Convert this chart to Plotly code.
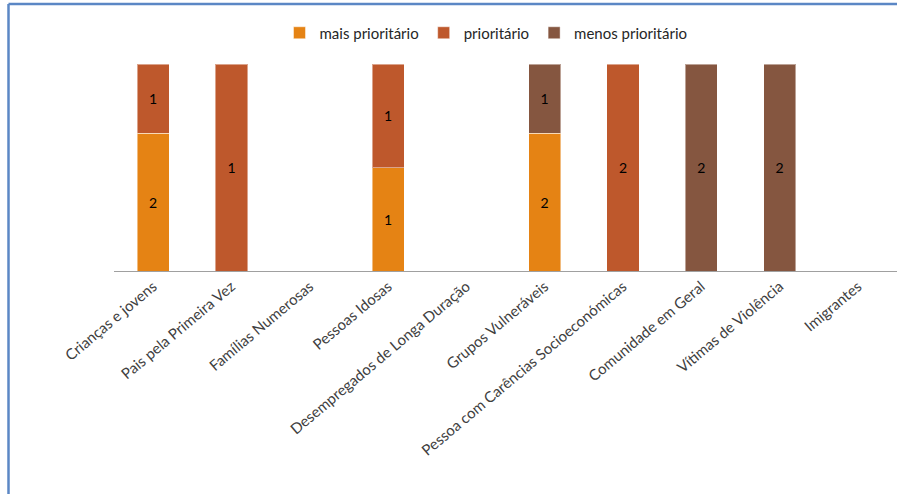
import plotly.graph_objects as go

categorias = [
    "Crianças e jovens", "Pais pela Primeira Vez", "Famílias Numerosas",
    "Pessoas Idosas", "Desempregados de Longa Duração", "Grupos Vulneráveis",
    "Pessoa com Carências Socioeconómicas", "Comunidade em Geral",
    "Vítimas de Violência", "Imigrantes",
]
mais_prioritario = [2, None, None, 1, None, 2, None, None, None, None]
prioritario = [1, 1, None, 1, None, None, 2, None, None, None]
menos_prioritario = [None, None, None, None, None, 1, None, 2, 2, None]

series = [
    ("mais prioritário", mais_prioritario, "#E58314"),
    ("prioritário", prioritario, "#BE582C"),
    ("menos prioritário", menos_prioritario, "#855640"),
]

W, H = 897, 494
ML, MR, MT, MB = 114, 0, 64, 223
pw, ph = W - ML - MR, H - MT - MB

fig = go.Figure()
for nome, vals, cor in series:
    fig.add_trace(go.Bar(
        name=nome, x=categorias, y=vals,
        text=[("" if v is None else str(v)) for v in vals],
        textposition="inside", insidetextanchor="middle",
        textfont=dict(color="#000000", size=14),
        marker=dict(color=cor, line=dict(color="rgba(255,255,255,0.45)", width=1)),
        hoverinfo="skip",
    ))

# moldura azul (apenas esquerda e topo visíveis)
def px_x(p):
    return (p - ML) / pw

def px_y(p):
    return (H - MB - p) / ph

fig.add_shape(type="line", xref="paper", yref="paper",
              x0=px_x(8.5), x1=px_x(W), y0=px_y(4), y1=px_y(4),
              line=dict(color="#5B87C5", width=2.5))
fig.add_shape(type="line", xref="paper", yref="paper",
              x0=px_x(8.5), x1=px_x(8.5), y0=px_y(4), y1=px_y(H),
              line=dict(color="#5B87C5", width=2.5))

fig.update_layout(
    width=W, height=H,
    margin=dict(l=ML, r=MR, t=MT, b=MB),
    barmode="stack", barnorm="percent", bargap=0.59,
    plot_bgcolor="white", paper_bgcolor="white",
    font=dict(family="Lato, Open Sans, sans-serif", size=15, color="#404040"),
    showlegend=True,
    legend=dict(orientation="h", traceorder="normal", x=px_x(486), xanchor="center",
                y=px_y(33), yanchor="middle", font=dict(size=15, color="#262626"),
                itemwidth=30),
    xaxis=dict(tickangle=-40, showline=True, linecolor="#A0A0A0", linewidth=1,
               ticks="", showgrid=False, tickfont=dict(size=15, color="#404040"),
               automargin=False),
    yaxis=dict(visible=False, range=[0, 100], showgrid=False, automargin=False),
)

fig.write_html("out.html", config={"displayModeBar": False},
               post_script="document.body.style.margin='0px';")
